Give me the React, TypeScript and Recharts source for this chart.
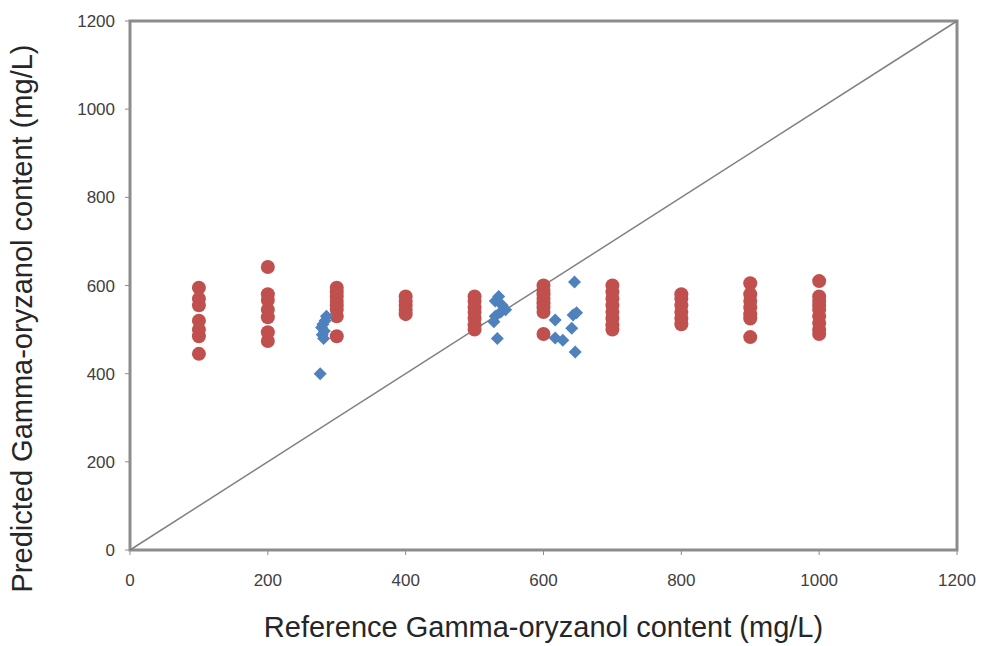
import React from "react";
import {
  ScatterChart,
  Scatter,
  XAxis,
  YAxis,
  ReferenceLine,
  ReferenceArea,
} from "recharts";

// reference levels (x) for the red series, and predicted values at each level
const refLevels = [100, 200, 300, 400, 500, 600, 700, 800, 900, 1000];
const predAt100 = [595, 570, 555, 520, 500, 485, 445];
const predAt200 = [642, 580, 567, 545, 528, 494, 474];
const predAt300 = [595, 585, 575, 565, 555, 545, 530, 485];
const predAt400 = [575, 565, 555, 545, 535];
const predAt500 = [575, 565, 550, 540, 525, 510, 500];
const predAt600 = [600, 590, 580, 570, 560, 550, 540, 490];
const predAt700 = [600, 585, 570, 555, 540, 525, 510, 500];
const predAt800 = [580, 570, 555, 540, 525, 512];
const predAt900 = [605, 580, 565, 550, 535, 525, 483];
const predAt1000 = [610, 575, 565, 555, 545, 530, 515, 500, 490];
const predByLevel = [
  predAt100, predAt200, predAt300, predAt400, predAt500,
  predAt600, predAt700, predAt800, predAt900, predAt1000,
];

// blue samples
const blueRef = [
  285, 283, 280, 278, 282, 279, 281, 276,
  535, 530, 540, 545, 538, 530, 528, 533,
  645, 617, 643, 641, 617, 628, 646, 648,
];
const bluePred = [
  530, 520, 512, 505, 497, 488, 480, 400,
  575, 565, 555, 545, 540, 530, 518, 480,
  608, 522, 533, 503, 481, 476, 449, 538,
];

const ticks = [0, 200, 400, 600, 800, 1000, 1200];

const redData = refLevels.flatMap((x, i) => predByLevel[i].map((y) => ({ x, y })));
const blueData = blueRef.map((x, i) => ({ x, y: bluePred[i] }));

const RED = "#c0504d";
const BLUE = "#4f81bd";
const FRAME = "#8c8c8c";

const tickStyle = {
  fontSize: 17,
  fill: "#404040",
  fontFamily: "'Liberation Sans Narrow', 'Arial Narrow', sans-serif",
};

const Dot = (props: any) => {
  const { cx, cy } = props;
  if (cx == null || cy == null) return null;
  return <circle cx={cx} cy={cy} r={7} fill={RED} />;
};

const Diamond = (props: any) => {
  const { cx, cy } = props;
  if (cx == null || cy == null) return null;
  const h = 6.5;
  return (
    <polygon
      points={`${cx},${cy - h} ${cx + h},${cy} ${cx},${cy + h} ${cx - h},${cy}`}
      fill={BLUE}
    />
  );
};

const YTitle = (props: any) => {
  const vb = props.viewBox || {};
  const x = vb.x - 48;
  const y = vb.y + vb.height / 2 + 33;
  return (
    <text
      x={x}
      y={y}
      transform={`rotate(-90, ${x}, ${y})`}
      textAnchor="middle"
      dominantBaseline="central"
      fontSize={29}
      fill="#262626"
    >
      Predicted Gamma-oryzanol content (mg/L)
    </text>
  );
};

export default function App() {
  return (
    <div style={{ position: "absolute", left: 0, top: 0, width: 984, height: 646, background: "#fff" }}>
      <ScatterChart
        width={984}
        height={646}
        margin={{ top: 21, right: 27, bottom: 36, left: 70 }}
        style={{ fontFamily: "'Liberation Sans', Arial, sans-serif" }}
      >
        <XAxis
          type="number"
          dataKey="x"
          domain={[0, 1200]}
          ticks={ticks}
          height={60}
          tick={tickStyle}
          tickMargin={19}
          tickSize={5}
          axisLine={false}
          tickLine={{ stroke: FRAME }}
          label={{
            value: "Reference Gamma-oryzanol content (mg/L)",
            position: "insideBottom",
            offset: -27,
            style: { fontSize: 29, fill: "#262626" },
          }}
        />
        <YAxis
          type="number"
          dataKey="y"
          domain={[0, 1200]}
          ticks={ticks}
          width={60}
          tick={tickStyle}
          tickMargin={10}
          tickSize={5}
          axisLine={false}
          tickLine={{ stroke: FRAME }}
          label={<YTitle />}
        />
        <ReferenceArea
          x1={0}
          x2={1200}
          y1={0}
          y2={1200}
          fill="none"
          stroke={FRAME}
          strokeWidth={3}
          ifOverflow="visible"
        />
        <ReferenceLine
          segment={[{ x: 0, y: 0 }, { x: 1200, y: 1200 }]}
          stroke="#808080"
          strokeWidth={1.5}
        />
        <Scatter data={redData} shape={Dot} isAnimationActive={false} />
        <Scatter data={blueData} shape={Diamond} isAnimationActive={false} />
      </ScatterChart>
    </div>
  );
}
